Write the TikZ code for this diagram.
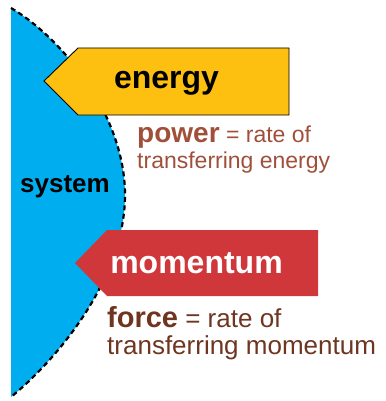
\documentclass[tikz,border=0pt]{standalone}
\usepackage{fontspec}
\setmainfont{Liberation Sans}
\definecolor{syscyan}{HTML}{00AEEF}
\definecolor{enyellow}{HTML}{FDC010}
\definecolor{mored}{HTML}{D0373A}
\definecolor{powbrown}{HTML}{A0503A}
\definecolor{forbrown}{HTML}{6E3520}
\begin{document}
\begin{tikzpicture}[x=1pt,y=-1pt,
  sysline/.style={draw=black,line width=2.2pt,dash pattern=on 5pt off 3.5pt},
  bigword/.style={font=\fontsize{32}{32}\selectfont\bfseries,inner sep=0pt,anchor=base},
  ratetext/.style={inner sep=0pt,anchor=base west,align=left}]
\useasboundingbox (0,0) rectangle (385,401);
% system
\fill[syscyan] (11,8) .. controls (62,38) and (125,115) .. (125,195)
  .. controls (125,275) and (62,355) .. (11,397) -- cycle;
\draw[sysline] (11,8) .. controls (62,38) and (125,115) .. (125,195)
  .. controls (125,275) and (62,355) .. (11,397);
\node[inner sep=0pt,anchor=base west,font=\fontsize{26}{26}\selectfont\bfseries] (sys) at (20,192) {system};
% energy arrow
\draw[fill=enyellow,draw=black,line width=0.9pt] (44,81) -- (78,48) -- (289,48) -- (289,115) -- (78,115) -- cycle;
\node[bigword] (en) at (166.5,89) {energy};
\node[ratetext,text=powbrown,font=\fontsize{23}{23}\selectfont] (pow1) at (137,142) {{\fontsize{28}{28}\selectfont\bfseries power} = rate of};
\node[ratetext,text=powbrown,font=\fontsize{23}{23}\selectfont] (pow2) at (137,168) {transferring energy};
% momentum arrow
\fill[mored] (75,263) -- (107,230) -- (318,230) -- (318,296) -- (107,296) -- cycle;
\node[bigword,text=white] (mom) at (196.5,273) {momentum};
\node[ratetext,text=forbrown,font=\fontsize{26}{26}\selectfont] (f1) at (107,327) {{\fontsize{29}{29}\selectfont\bfseries force} = rate of};
\node[ratetext,text=forbrown,font=\fontsize{26}{26}\selectfont] (f2) at (107,354) {transferring momentum};
\end{tikzpicture}
\end{document}
